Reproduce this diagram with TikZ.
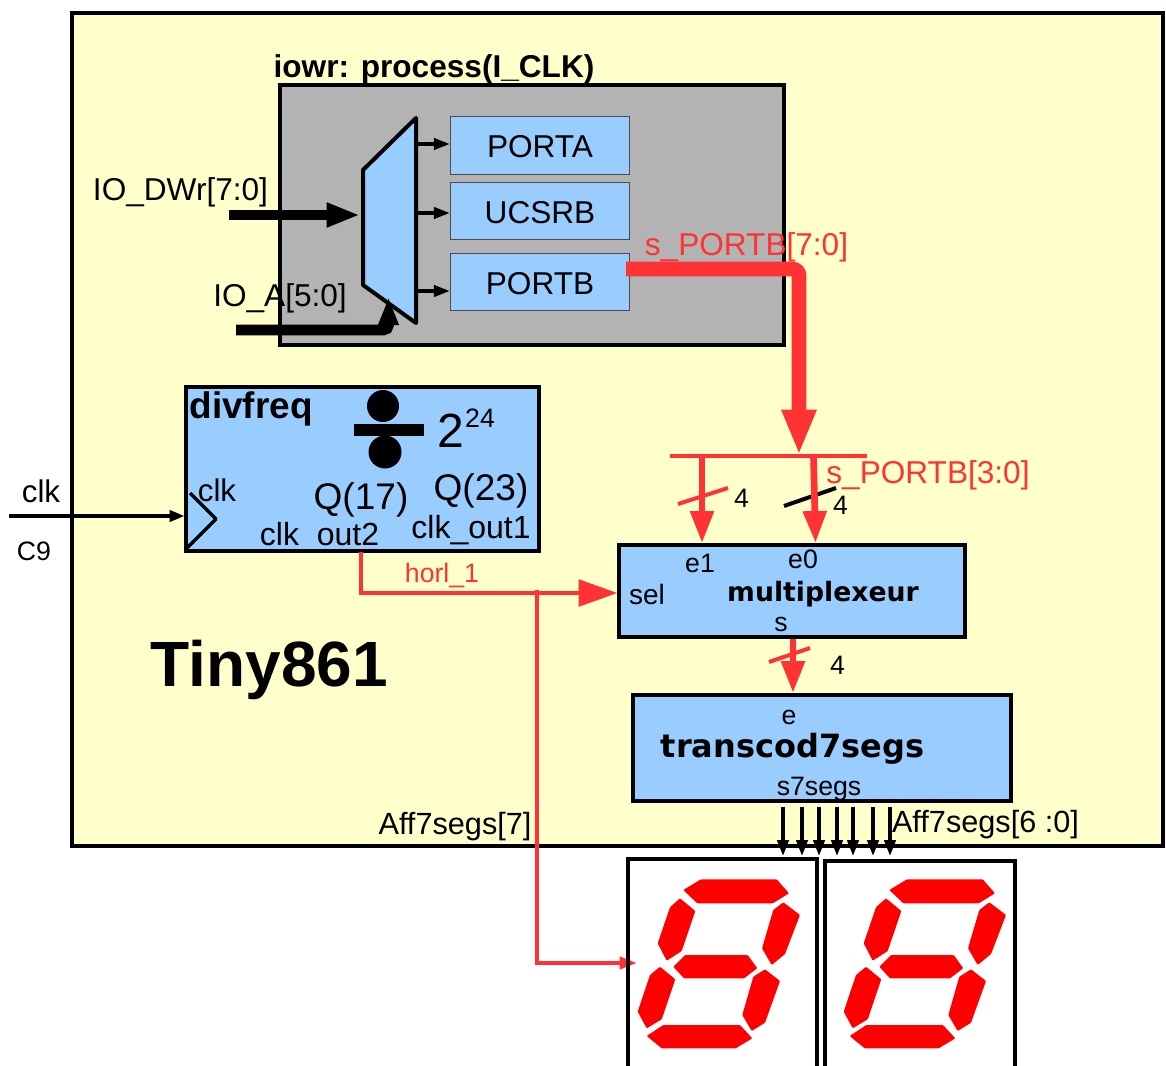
\documentclass[tikz,border=0pt]{standalone}
\usepackage{xcolor}
\usepackage{fontspec}
\setmainfont{Liberation Sans}
\newfontfamily\dejavu{DejaVu Sans}
\usepackage{tikz}
\usetikzlibrary{arrows.meta, positioning, calc}
\definecolor{chipyellow}{HTML}{FFFFCC}
\definecolor{blockblue}{HTML}{99CCFF}
\definecolor{wirered}{HTML}{FF3333}
\definecolor{procgray}{HTML}{B3B3B3}
\newcommand{\sz}[1]{\fontsize{#1}{#1}\selectfont}
\begin{document}
\begin{tikzpicture}[
    x=0.75pt, y=-0.75pt,
    block/.style={draw, line width=2.6pt, fill=blockblue, inner sep=0pt},
    reg/.style={draw=black!70, line width=0.8pt, fill=blockblue, inner sep=0pt, text height=18.5pt, font=\sz{23.7}},
    txt/.style={inner sep=0pt, font=\sz{23.7}},
    small/.style={inner sep=0pt, font=\sz{20}},
    blackarr/.style={line width=2.6pt, -{Triangle[length=12pt,width=8.5pt]}},
    bigarr/.style={line width=8.2pt, -{Triangle[length=25pt,width=17pt]}},
    redwire/.style={line width=2.8pt, draw=wirered},
    redarr/.style={line width=5pt, draw=wirered, -{Triangle[length=24pt,width=17pt]}},
    slash/.style={line width=3pt},
    seg/.style={fill=red, rounded corners=0.7pt},
]
\useasboundingbox (0,0) rectangle (1166,1066);

% Chip and blocks
\draw[line width=2.6pt, fill=chipyellow] (72,13) rectangle (1163,846);
\node[draw, line width=2.6pt, fill=procgray, inner sep=0pt, minimum width=378pt, minimum height=195pt] (iowr) at (532,215) {};
\node[block, minimum width=264.75pt, minimum height=123pt] (divfreq) at (362.5,469) {};
\node[block, minimum width=259.5pt, minimum height=69pt] (mult) at (792,591) {};
\node[block, minimum width=283.5pt, minimum height=79.5pt] (transcod) at (822,748) {};

% Registers
\node[reg, minimum width=134.5pt, minimum height=43pt] (porta) at (540,145.5) {PORTA};
\node[reg, minimum width=134.5pt, minimum height=43pt] (ucsrb) at (540,211) {UCSRB};
\node[reg, minimum width=134.5pt, minimum height=43pt] (portb) at (540,282) {PORTB};

% Demux
\draw[line width=3pt, fill=blockblue, line join=round] (363,170) -- (416,118) -- (416,323) -- (363,285) -- cycle;
\coordinate (muxa) at (416,144);
\coordinate (muxb) at (416,213);
\coordinate (muxc) at (416,291);
\coordinate (muxin) at (360,215);
\coordinate (muxsel) at (388.5,297);
\coordinate (dwrin) at (229,215);
\coordinate (ain) at (236,330);
\draw[bigarr] (dwrin) -- (muxin);
\draw[line width=8.2pt, rounded corners=4pt, -{Triangle[length=21pt,width=14pt]}] (ain) -- (ain -| muxsel) -- (muxsel);
\draw[blackarr] (muxa) -- (muxa -| porta.west);
\draw[blackarr] (muxb) -- (muxb -| ucsrb.west);
\draw[blackarr] (muxc) -- (muxc -| portb.west);

% Buses
\coordinate (busl) at (670,456);
\coordinate (busr) at (867,456);
\coordinate (busm) at (799,455);
\coordinate (e1in) at (702,543);
\coordinate (e0in) at (815.5,543);
\draw[line width=11pt, draw=wirered, rounded corners=5pt, -{Triangle[length=34pt,width=24pt]}] ([xshift=-3pt]portb.east |- 0,269) -- (799,269) -- (busm);
\draw[line width=3pt, draw=wirered] (busl) -- (busr);
\draw[slash] (784,506) -- (836,488);
\draw[redarr] (busl -| e1in) -- (e1in);
\draw[redarr] (813.5,456) -- (e0in);
\draw[slash, draw=wirered] (678,504) -- (728,488);
\draw[redarr] (mult.south -| 793,0) -- (793,693);
\draw[slash, draw=wirered] (769,662) -- (810,648);

% Clock wires
\coordinate (clkin) at (9,516);
\draw[line width=2.4pt, -{Triangle[length=11pt,width=8.5pt]}] (clkin) -- (clkin -| divfreq.west);
\draw[line width=2.6pt, line join=round] (190,493) -- (216,519) -- (185,550);
\coordinate (tapy) at (537,590);
\coordinate (dpin) at (637,963);
\draw[redwire, -{Triangle[length=29pt,width=20pt]}] (361,552) |- (mult.west |- 0,593);
\draw[redwire, -{Triangle[length=13pt,width=9pt]}] (tapy) |- (dpin);

% Digit lines
\foreach \x [count=\i] in {783,802,819,837,853,873,890} {
  \coordinate (dg\i) at (\x,856);
  \draw[blackarr] ([yshift=-3pt]transcod.south -| dg\i) -- (dg\i);
}
\draw[line width=2.6pt] (628,1070) -- (628,859) -- (817,859) -- (817,1070);
\draw[line width=2.6pt] (825,1070) -- (825,861) -- (1015,861) -- (1015,1070);

% Segments
\foreach \dx/\bx in {0/0, 206/-3} {
\begin{scope}[shift={(\dx,0)}]
\fill[seg] (683.3,890) -- (701,879.3) -- (776.7,879.3) -- (789,893.3) -- (772.7,903.3) -- (697.3,903.3) -- cycle;
\fill[seg] (783.3,902.3) -- (800,915) -- (785,954) -- (771.7,965) -- (762,948.3) -- (773.3,910) -- cycle;
\fill[seg] (680,898.3) -- (695.3,911) -- (681.7,951) -- (666.7,960.7) -- (657.7,943.3) -- (670,907.3) -- cycle;
\fill[seg] (673.3,966.7) -- (685,955) -- (747.7,955) -- (757.3,968.3) -- (744,978.3) -- (684,978.3) -- cycle;
\fill[seg] (660,966.7) -- (675.3,979.3) -- (661.7,1019.3) -- (646.7,1028.3) -- (637.7,1011.7) -- (650,975) -- cycle;
\fill[seg] (765,969.3) -- (780,981) -- (765,1022.7) -- (751.7,1031) -- (742.3,1015) -- (753.3,976.7) -- cycle;
\fill[seg, xshift=\bx*0.75pt] (646.7,1036) -- (663.3,1025) -- (740,1025) -- (752.3,1038.3) -- (735.7,1048.3) -- (661.7,1048.3) -- cycle;
\end{scope}
}

% Divider symbol
\fill (383,406) circle (16);
\fill (385,452) circle (16.5);
\fill (354,424) rectangle (424,436);

% Labels
\node[inner sep=0pt, font=\sz{23.7}\bfseries] (iowrlab) at (434,69) {iowr: process(I\_CLK)};
\node[txt] (dwrlab) at (180.5,192.5) {IO\_DWr[7:0]};
\node[txt] (alab) at (280,298.5) {IO\_A[5:0]};
\node[txt, text=wirered] (p70lab) at (746.5,247.5) {s\_PORTB[7:0]};
\node[txt, text=wirered] (p30lab) at (928,475.5) {s\_PORTB[3:0]};
\node[inner sep=0pt, font=\sz{27.7}\bfseries] (divlab) at (251,408.5) {divfreq};
\node[inner sep=0pt, font=\sz{36}] (twolab) at (451,431) {2};
\node[inner sep=0pt, font=\sz{20}] (explab) at (480,418) {24};
\node[small, font=\sz{23.5}] (clklab) at (41,491) {clk};
\node[small] (c9lab) at (34,551) {C9};
\node[small, font=\sz{23.5}] (clkin2) at (217,490) {clk};
\node[txt, font=\sz{27.8}] (q17) at (361,500) {Q(17)};
\node[txt, font=\sz{27.8}] (q23) at (481,491) {Q(23)};
\node[small, font=\sz{24}] (out2) at (319.5,537) {clk\_out2};
\node[small, font=\sz{24}] (out1) at (471,530) {clk\_out1};
\node[small, text=wirered] (horl) at (442,575) {horl\_1};
\node[inner sep=0pt, font=\sz{48}\bfseries] (tiny) at (269.5,670) {Tiny861};
\node[small] (four1) at (741.5,498) {4};
\node[small] (four2) at (840.5,505) {4};
\node[small] (four3) at (837.5,665) {4};
\node[small] (e1lab) at (700,563) {e1};
\node[small] (e0lab) at (803,559) {e0};
\node[small, font=\sz{21}] (sellab) at (647,594.5) {sel};
\node[small] (slab) at (781,624) {s};
\node[inner sep=0pt, font=\sz{20}\dejavu\bfseries] (multlab) at (823,594) {multiplexeur};
\node[small] (elab) at (789,717) {e};
\node[inner sep=0pt, font=\sz{24}\dejavu\bfseries] (translab) at (792.5,748.5) {transcod7segs};
\node[small] (s7lab) at (819,789) {s7segs};
\node[small, font=\sz{23}] (aff7) at (455,827) {Aff7segs[7]};
\node[small, font=\sz{23}] (aff60) at (985.5,825) {Aff7segs[6 :0]};
\end{tikzpicture}
\end{document}
